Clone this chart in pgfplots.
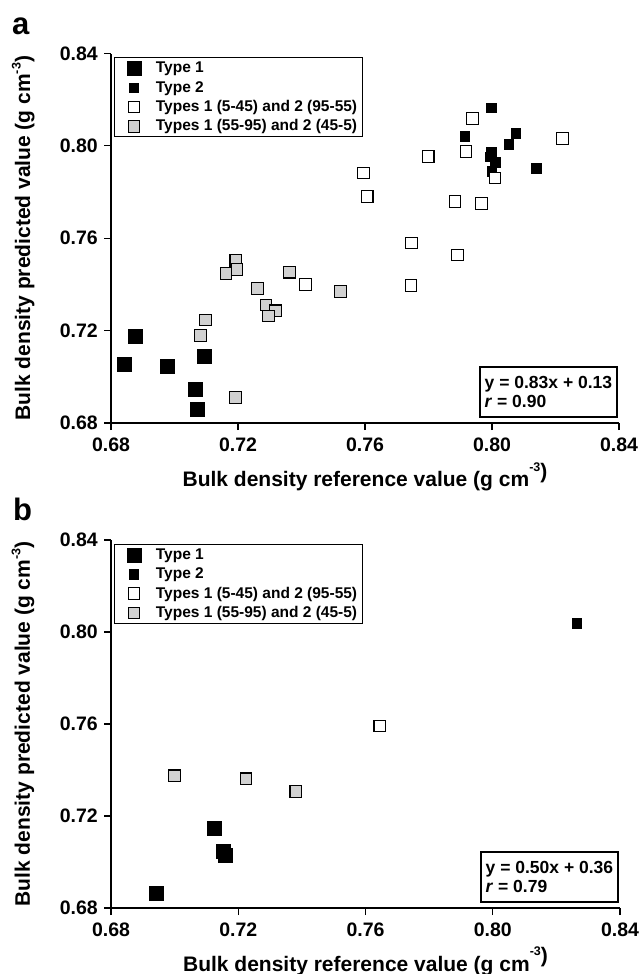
\documentclass[border=0pt]{standalone}
\usepackage{fontspec}
\setmainfont{Liberation Sans}
\usepackage{pgfplots}
\pgfplotsset{compat=1.18}
\definecolor{lgray}{gray}{0.82}
\newcommand{\tickfont}{\fontsize{19.5}{23}\selectfont\bfseries}
\newcommand{\labelfont}{\fontsize{21}{25}\selectfont\bfseries}
\newcommand{\xunit}{(g cm\raisebox{15.7pt}{\fontsize{12.5}{12}\selectfont -3}\raisebox{8.5pt}{)}}
\newcommand{\yunit}{(g cm\raisebox{9.5pt}{\fontsize{12.5}{12}\selectfont -3})}
\tikzset{eqbox/.style={draw, line width=1.6pt, anchor=south east, align=left, font=\fontsize{17.5}{19}\selectfont\bfseries, inner xsep=5pt, inner ysep=9.5pt}}
\pgfplotsset{
  panel/.style={
    scale only axis, width=508pt, height=369.5pt,
    xmin=0.68, xmax=0.84, ymin=0.68, ymax=0.84,
    axis x line*=bottom, axis y line*=left,
    axis line style={line width=1.2pt},
    tick style={line width=1.2pt, black},
    major tick length=7pt, tick align=outside,
    xtick={0.68,0.72,0.76,0.80,0.84}, xticklabels={0.68,0.72,0.76,0.80,0.84},
    ytick={0.68,0.72,0.76,0.80,0.84}, yticklabels={0.68,0.72,0.76,0.80,0.84},
    xticklabel style={font=\tickfont, anchor=base, inner sep=0pt, yshift=-21pt},
    yticklabel style={font=\tickfont, anchor=east, inner sep=0pt, xshift=-6pt},
    xlabel={Bulk density reference value \xunit},
    ylabel={Bulk density predicted value \yunit},
    xlabel style={at={(axis description cs:0.5,-0.1724)}, anchor=base, font=\labelfont, inner sep=0pt},
    ylabel style={at={(axis description cs:-0.1594,0.5)}, anchor=base, rotate=0, font=\labelfont, inner sep=0pt},
    clip=false,
    legend cell align=left,
    legend image code/.code={\path[draw=none,fill=none] (0pt,-6pt) rectangle (28pt,6pt); \draw[##1] plot coordinates {(16.5pt,0pt)};},
    legend style={at={(axis description cs:0.0059,0.9892)}, anchor=north west, draw=black, line width=0.8pt, fill=white,
      font=\fontsize{15.5}{18}\selectfont\bfseries, inner xsep=3pt, inner ysep=2.9pt, row sep=4.4pt, column sep=8pt,
      nodes={inner xsep=2.5pt, inner ysep=0pt, text height=12pt, text depth=3pt}},
  },
  t1/.style={only marks, mark=square*, mark size=7pt, mark options={fill=black, draw=black, line width=0.5pt}},
  t2/.style={only marks, mark=square*, mark size=4.8pt, mark options={fill=black, draw=black, line width=0.5pt}},
  t3/.style={only marks, mark=square*, mark size=5.8pt, mark options={fill=white, draw=black, line width=1.1pt}},
  t4/.style={only marks, mark=square*, mark size=5.8pt, mark options={fill=lgray, draw=black, line width=1.1pt}},
}
\begin{document}
\begin{tikzpicture}[x=1pt,y=1pt]
\useasboundingbox (0,0) rectangle (644,-974);
\node[anchor=base west, font=\fontsize{31}{31}\selectfont\bfseries, inner sep=0pt] at (12,-35) {a};
\node[anchor=base west, font=\fontsize{31}{31}\selectfont\bfseries, inner sep=0pt] at (13,-520) {b};
\begin{axis}[panel, at={(111pt,-423pt)}, anchor=south west]
\addplot[t1] coordinates {(0.6841,0.7053) (0.6875,0.7174) (0.6977,0.7046) (0.7095,0.7087) (0.7064,0.6945) (0.7073,0.6859)};
\addlegendentry{Type 1}
\addplot[t2] coordinates {(0.7997,0.8165) (0.7914,0.8042) (0.8075,0.8054) (0.8053,0.8006) (0.7997,0.7974) (0.7993,0.7953) (0.8010,0.7929) (0.7999,0.7890) (0.8140,0.7902)};
\addlegendentry{Type 2}
\addplot[t3] coordinates {(0.7939,0.8119) (0.8222,0.8032) (0.7799,0.7954) (0.7918,0.7976) (0.8009,0.7861) (0.7595,0.7882) (0.7607,0.7780) (0.7883,0.7759) (0.7967,0.7751) (0.7746,0.7579) (0.7891,0.7528) (0.7745,0.7395) (0.7413,0.7400)};
\addlegendentry{Types 1 (5-45) and 2 (95-55)}
\addplot[t4] coordinates {(0.7193,0.7504) (0.7197,0.7465) (0.7162,0.7447) (0.7362,0.7453) (0.7261,0.7382) (0.7523,0.7370) (0.7288,0.7311) (0.7318,0.7286) (0.7296,0.7263) (0.7097,0.7246) (0.7082,0.7178) (0.7192,0.6911)};
\addlegendentry{Types 1 (55-95) and 2 (45-5)}
\node[eqbox] at (rel axis cs:0.998,0.0135) {y = 0.83x + 0.13\\\textit{r} = 0.90};
\end{axis}
\begin{axis}[panel, at={(111pt,-908pt)}, anchor=south west, width=509pt, height=368pt]
\addplot[t1] coordinates {(0.6943,0.6865) (0.7126,0.7147) (0.7153,0.7046) (0.7160,0.7031)};
\addlegendentry{Type 1}
\addplot[t2] coordinates {(0.8264,0.8039)};
\addlegendentry{Type 2}
\addplot[t3] coordinates {(0.7645,0.7592)};
\addlegendentry{Types 1 (5-45) and 2 (95-55)}
\addplot[t4] coordinates {(0.6999,0.7375) (0.7224,0.7362) (0.7381,0.7307)};
\addlegendentry{Types 1 (55-95) and 2 (45-5)}
\node[eqbox] at (rel axis cs:0.998,0.0135) {y = 0.50x + 0.36\\\textit{r} = 0.79};
\end{axis}
\end{tikzpicture}
\end{document}
